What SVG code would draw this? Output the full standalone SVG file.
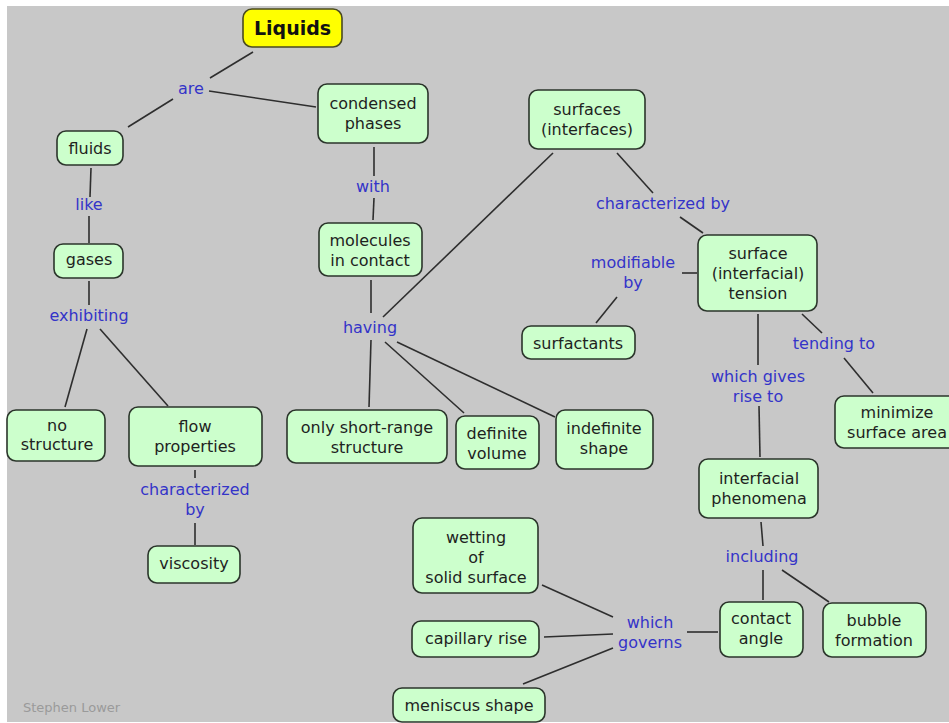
<svg xmlns="http://www.w3.org/2000/svg" width="949" height="723" viewBox="0 0 949 723">
<style>
.n rect{fill:#ccffcc;stroke:#2b352b;stroke-width:1.6}
.n text{font-family:"DejaVu Sans",Verdana,sans-serif;font-size:16px;fill:#1e231e;text-anchor:middle}
.l{font-family:"DejaVu Sans",Verdana,sans-serif;font-size:16px;fill:#3434c8;text-anchor:middle}
#connectors line{stroke:#2e2e2e;stroke-width:1.6}
</style>
<rect x="0" y="0" width="949" height="723" fill="#ffffff"/>
<rect x="7" y="6" width="942" height="716" fill="#c8c8c8"/>
<text x="23" y="712" font-family="'DejaVu Sans',Verdana,sans-serif" font-size="13" fill="#9a9a9a">Stephen Lower</text>
<g id="connectors">
<line x1="253" y1="52" x2="210" y2="78"/>
<line x1="173" y1="99" x2="128" y2="127"/>
<line x1="209" y1="91" x2="316" y2="107"/>
<line x1="91" y1="168" x2="90" y2="197"/>
<line x1="89" y1="216" x2="89" y2="243"/>
<line x1="89" y1="281" x2="89" y2="305"/>
<line x1="87" y1="329" x2="65" y2="407"/>
<line x1="100" y1="329" x2="168" y2="406"/>
<line x1="195" y1="470" x2="195" y2="478"/>
<line x1="195" y1="523" x2="195" y2="545"/>
<line x1="374" y1="147" x2="374" y2="176"/>
<line x1="374" y1="198" x2="373" y2="220"/>
<line x1="371" y1="280" x2="371" y2="313"/>
<line x1="553" y1="153" x2="383" y2="317"/>
<line x1="371" y1="340" x2="369" y2="407"/>
<line x1="385" y1="342" x2="464" y2="413"/>
<line x1="397" y1="342" x2="555" y2="417"/>
<line x1="617" y1="153" x2="653" y2="193"/>
<line x1="680" y1="217" x2="703" y2="233"/>
<line x1="682" y1="273" x2="697" y2="273"/>
<line x1="617" y1="297" x2="596" y2="323"/>
<line x1="758" y1="314" x2="758" y2="365"/>
<line x1="802" y1="314" x2="822" y2="333"/>
<line x1="844" y1="358" x2="873" y2="393"/>
<line x1="759" y1="406" x2="760" y2="457"/>
<line x1="761" y1="522" x2="763" y2="546"/>
<line x1="763" y1="570" x2="763" y2="600"/>
<line x1="782" y1="570" x2="829" y2="602"/>
<line x1="718" y1="632" x2="687" y2="632"/>
<line x1="542" y1="585" x2="613" y2="617"/>
<line x1="544" y1="637" x2="613" y2="634"/>
<line x1="523" y1="684" x2="613" y2="648"/>
</g>
<g id="labels">
<text class="l" x="191" y="94">are</text>
<text class="l" x="373" y="192">with</text>
<text class="l" x="89" y="210">like</text>
<text class="l" x="89" y="321">exhibiting</text>
<text class="l" x="370" y="333">having</text>
<text class="l" x="663" y="209">characterized by</text>
<text class="l" x="633" y="268">modifiable</text>
<text class="l" x="633" y="288">by</text>
<text class="l" x="834" y="349">tending to</text>
<text class="l" x="758" y="382">which gives</text>
<text class="l" x="758" y="402">rise to</text>
<text class="l" x="195" y="495">characterized</text>
<text class="l" x="195" y="515">by</text>
<text class="l" x="762" y="562">including</text>
<text class="l" x="650" y="628">which</text>
<text class="l" x="650" y="648">governs</text>
</g>
<g id="liquids"><rect x="243" y="9" width="99" height="38" rx="9" fill="#ffff00" stroke="#4a4a20" stroke-width="1.6"/><text x="292.5" y="35" font-family="'DejaVu Sans',Verdana,sans-serif" font-size="19" font-weight="bold" fill="#111" text-anchor="middle">Liquids</text></g>
<g id="condensed" class="n"><rect x="318" y="84" width="110" height="59" rx="9"/><text x="373" y="109">condensed</text><text x="373" y="129">phases</text></g>
<g id="fluids" class="n"><rect x="57" y="131" width="66" height="34" rx="9"/><text x="90" y="154">fluids</text></g>
<g id="gases" class="n"><rect x="54" y="244" width="69" height="34" rx="9"/><text x="89" y="265">gases</text></g>
<g id="molecules" class="n"><rect x="319" y="223" width="103" height="53" rx="9"/><text x="370" y="246">molecules</text><text x="370" y="266">in contact</text></g>
<g id="surfaces" class="n"><rect x="529" y="90" width="116" height="59" rx="9"/><text x="587" y="115">surfaces</text><text x="587" y="135">(interfaces)</text></g>
<g id="tension" class="n"><rect x="698" y="235" width="119" height="76" rx="9"/><text x="758" y="259">surface</text><text x="758" y="279">(interfacial)</text><text x="758" y="299">tension</text></g>
<g id="surfactants" class="n"><rect x="522" y="326" width="113" height="33" rx="9"/><text x="578" y="349">surfactants</text></g>
<g id="minimize" class="n"><rect x="835" y="396" width="130" height="52" rx="9"/><text x="897" y="418">minimize</text><text x="897" y="438">surface area</text></g>
<g id="nostructure" class="n"><rect x="7" y="410" width="98" height="51" rx="9"/><text x="57" y="431">no</text><text x="57" y="450">structure</text></g>
<g id="flow" class="n"><rect x="129" y="407" width="133" height="59" rx="9"/><text x="195" y="432">flow</text><text x="195" y="452">properties</text></g>
<g id="viscosity" class="n"><rect x="148" y="546" width="92" height="37" rx="9"/><text x="194" y="569">viscosity</text></g>
<g id="shortrange" class="n"><rect x="287" y="410" width="160" height="53" rx="9"/><text x="367" y="433">only short-range</text><text x="367" y="453">structure</text></g>
<g id="definite" class="n"><rect x="456" y="416" width="83" height="53" rx="9"/><text x="497" y="439">definite</text><text x="497" y="459">volume</text></g>
<g id="indefinite" class="n"><rect x="556" y="410" width="97" height="59" rx="9"/><text x="604" y="434">indefinite</text><text x="604" y="454">shape</text></g>
<g id="interfacial" class="n"><rect x="699" y="459" width="119" height="59" rx="9"/><text x="759" y="484">interfacial</text><text x="759" y="504">phenomena</text></g>
<g id="contact" class="n"><rect x="720" y="602" width="83" height="55" rx="9"/><text x="761" y="624">contact</text><text x="761" y="644">angle</text></g>
<g id="bubble" class="n"><rect x="823" y="603" width="103" height="54" rx="9"/><text x="874" y="626">bubble</text><text x="874" y="646">formation</text></g>
<g id="wetting" class="n"><rect x="413" y="518" width="125" height="75" rx="9"/><text x="476" y="543">wetting</text><text x="476" y="563">of</text><text x="476" y="583">solid surface</text></g>
<g id="capillary" class="n"><rect x="412" y="621" width="127" height="36" rx="9"/><text x="476" y="644">capillary rise</text></g>
<g id="meniscus" class="n"><rect x="393" y="688" width="152" height="34" rx="9"/><text x="469" y="711">meniscus shape</text></g>
</svg>
